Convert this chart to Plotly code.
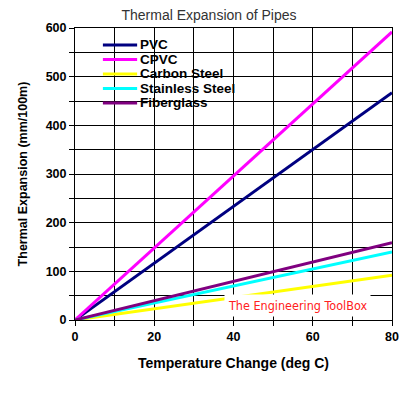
import plotly.graph_objects as go

temp = [0, 20, 40, 60, 80]
pvc = [0, 117, 234, 350, 467]
cpvc = [0, 148, 296, 444, 592]
carbon_steel = [0, 23, 46, 69, 92]
stainless_steel = [0, 35, 70, 105, 140]
fiberglass = [0, 40, 79, 119, 159]

names = ["PVC", "CPVC", "Carbon Steel", "Stainless Steel", "Fiberglass"]
values = [pvc, cpvc, carbon_steel, stainless_steel, fiberglass]
colors = ["#000080", "#ff00ff", "#ffff00", "#00ffff", "#800080"]

font_main = "Liberation Sans, Arial, sans-serif"

fig = go.Figure()
for name, vals, col in zip(names, values, colors):
    fig.add_trace(go.Scatter(x=temp, y=vals, mode="lines", name=name,
                             line=dict(color=col, width=3), showlegend=False))

# legend box (white background, no border) and compact legend entries
fig.add_shape(type="rect", xref="paper", yref="paper",
              x0=0.0, x1=0.584, y0=0.709, y1=0.983,
              fillcolor="white", line=dict(width=0), layer="between")
row0, row_step = 0.942, 0.0497
for i, (name, col) in enumerate(zip(names, colors)):
    yy = row0 - i * row_step
    fig.add_shape(type="line", xref="paper", yref="paper",
                  x0=0.088, x1=0.196, y0=yy, y1=yy,
                  line=dict(color=col, width=3), layer="above")
    fig.add_annotation(x=0.198, y=yy, xref="paper", yref="paper",
                       xanchor="left", yanchor="middle", showarrow=False,
                       text=name,
                       font=dict(family=font_main, size=13.5, color="black", weight="bold"))

fig.add_annotation(
    x=0.703, y=0.048, xref="paper", yref="paper", xanchor="center", yanchor="middle",
    text="The Engineering ToolBox", showarrow=False,
    font=dict(family="Liberation Sans Narrow, DejaVu Sans Condensed, sans-serif",
              size=12.5, color="#ff2020"),
    bgcolor="white", borderpad=3,
)

fig.update_layout(
    width=418, height=394,
    margin=dict(l=75, r=26, t=28, b=74),
    paper_bgcolor="white", plot_bgcolor="white",
    title=dict(text="Thermal Expansion of Pipes", x=0.5, xanchor="center",
               y=0.962, yanchor="middle",
               font=dict(family=font_main, size=14, color="#333333")),
    font=dict(family=font_main, size=12, color="black"),
    showlegend=False,
    xaxis=dict(
        range=[0, 80], dtick=20, tick0=0, automargin=False,
        showgrid=True, gridcolor="black", gridwidth=1,
        ticks="outside", ticklen=5, tickcolor="black",
        minor=dict(dtick=10, showgrid=True, gridcolor="black", gridwidth=1,
                   ticks="outside", ticklen=5, tickcolor="black"),
        showline=True, linecolor="black", linewidth=1, mirror=True,
        zeroline=False,
        tickfont=dict(family=font_main, size=12.5, weight="bold"),
        title=dict(text="Temperature Change (deg C)",
                   font=dict(family=font_main, size=14, weight="bold")),
    ),
    yaxis=dict(
        range=[0, 600], dtick=100, tick0=0, automargin=False,
        showgrid=True, gridcolor="black", gridwidth=1,
        ticks="outside", ticklen=5, tickcolor="black",
        minor=dict(dtick=50, showgrid=True, gridcolor="black", gridwidth=1,
                   ticks="outside", ticklen=5, tickcolor="black"),
        showline=True, linecolor="black", linewidth=1, mirror=True,
        zeroline=False,
        tickfont=dict(family=font_main, size=12.5, weight="bold"),
        title=dict(text="Thermal Expansion (mm/100m)",
                   font=dict(family=font_main, size=12.5, weight="bold")),
    ),
)

fig.write_html("out.html", config={"displayModeBar": False},
               post_script="document.body.style.margin='0';")
